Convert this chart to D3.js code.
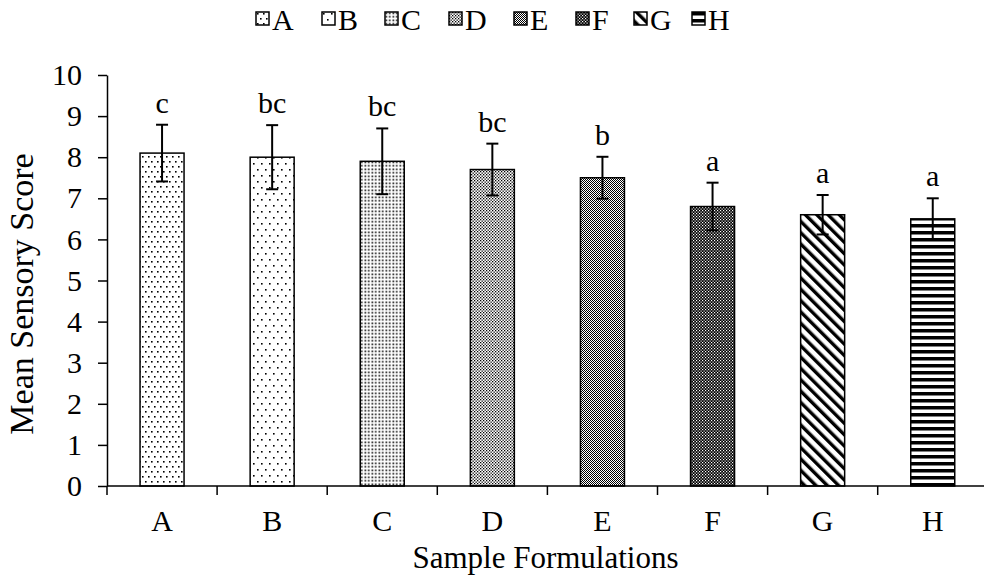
<!DOCTYPE html>
<html>
<head>
<meta charset="utf-8">
<script src="https://cdn.jsdelivr.net/npm/d3@7"></script>
<style>
  html, body { margin: 0; padding: 0; background: #fff; }
  svg { display: block; font-family: "Liberation Serif", "Times New Roman", serif; }
</style>
</head>
<body>
<svg id="chart" width="984" height="584"></svg>
<script>
const categories = ["A", "B", "C", "D", "E", "F", "G", "H"];
const means = [8.1, 8.0, 7.9, 7.7, 7.5, 6.8, 6.6, 6.5];
const errors = [0.69, 0.78, 0.8, 0.63, 0.51, 0.58, 0.48, 0.5];
const letters = ["c", "bc", "bc", "bc", "b", "a", "a", "a"];
const yTicks = [0, 1, 2, 3, 4, 5, 6, 7, 8, 9, 10];
const xTitle = "Sample Formulations";
const yTitle = "Mean Sensory Score";

(function () {
const svg = d3.select("#chart");
const W = 984, H = 584;
const mLeft = 107, mTop = 75, mBottom = 486;
const band = 110.1;

const x = d3.scaleBand().domain(categories).range([mLeft, mLeft + band * categories.length]).padding(0);
const y = d3.scaleLinear().domain([0, 10]).range([mBottom, mTop]);

const defs = svg.append("defs");
function pat(id, w, h, draw, transform) {
  const p = defs.append("pattern").attr("id", id).attr("patternUnits", "userSpaceOnUse")
    .attr("width", w).attr("height", h);
  if (transform) p.attr("patternTransform", transform);
  p.append("rect").attr("width", w).attr("height", h).attr("fill", "#fff");
  draw(p);
}
function dot(p, px, py, s, c) {
  p.append("rect").attr("x", px).attr("y", py).attr("width", s).attr("height", s).attr("fill", c || "#000");
}
pat("pA", 6, 10, p => { dot(p, 1, 1, 1.6); dot(p, 4, 6, 1.6); });
pat("pB", 8, 12, p => { dot(p, 1, 1, 1.6); dot(p, 5, 7, 1.6); });
pat("pC", 3.5, 3.5, p => { dot(p, 0.5, 0.5, 1.6); });
pat("pD", 3, 3, p => { dot(p, 0, 0, 1.3); dot(p, 1.5, 1.5, 1.3); });
pat("pE", 2, 2, p => { dot(p, 0, 0, 1); dot(p, 1, 1, 1); });
pat("pF", 3, 3, p => { dot(p, 0, 0, 3); dot(p, 0, 0, 1.2, "#fff"); dot(p, 1.5, 1.5, 1.2, "#fff"); });
pat("pG", 8, 8, p => {
  p.append("rect").attr("x", 0).attr("y", 0).attr("width", 3.4).attr("height", 8).attr("fill", "#000");
}, "rotate(-45)");
pat("pH", 8, 7, p => {
  p.append("rect").attr("x", 0).attr("y", 0).attr("width", 8).attr("height", 3.5).attr("fill", "#000");
});
const fills = ["pA", "pB", "pC", "pD", "pE", "pF", "pG", "pH"];

const barW = 44;
const g = svg.append("g");
const cx = d => x(d) + x.bandwidth() / 2;
g.selectAll("rect.bar").data(categories).join("rect")
  .attr("class", "bar")
  .attr("x", d => cx(d) - barW / 2)
  .attr("y", (d, i) => y(means[i]))
  .attr("width", barW)
  .attr("height", (d, i) => y(0) - y(means[i]))
  .attr("fill", (d, i) => `url(#${fills[i]})`)
  .attr("stroke", "#000").attr("stroke-width", 1.5);

const capW = 12;
const eb = g.selectAll("g.err").data(categories).join("g").attr("class", "err");
eb.append("line")
  .attr("x1", cx).attr("x2", cx)
  .attr("y1", (d, i) => y(means[i] - errors[i])).attr("y2", (d, i) => y(means[i] + errors[i]))
  .attr("stroke", "#000").attr("stroke-width", 2);
eb.append("line")
  .attr("x1", d => cx(d) - capW / 2).attr("x2", d => cx(d) + capW / 2)
  .attr("y1", (d, i) => y(means[i] + errors[i])).attr("y2", (d, i) => y(means[i] + errors[i]))
  .attr("stroke", "#000").attr("stroke-width", 2);
eb.append("line")
  .attr("x1", d => cx(d) - capW / 2).attr("x2", d => cx(d) + capW / 2)
  .attr("y1", (d, i) => y(means[i] - errors[i])).attr("y2", (d, i) => y(means[i] - errors[i]))
  .attr("stroke", "#000").attr("stroke-width", 2);

g.selectAll("text.sig").data(categories).join("text")
  .attr("class", "sig")
  .attr("x", cx)
  .attr("y", (d, i) => y(means[i] + errors[i]) - 12)
  .attr("text-anchor", "middle")
  .attr("font-size", 30)
  .text((d, i) => letters[i]);

const yAxis = svg.append("g").attr("transform", `translate(${mLeft},0)`)
  .call(d3.axisLeft(y).tickValues(yTicks).tickSize(9).tickPadding(16).tickSizeOuter(0).tickFormat(d3.format("d")));
yAxis.select(".domain").attr("stroke", "#000").attr("stroke-width", 1.5);
yAxis.selectAll(".tick line").attr("stroke", "#000").attr("stroke-width", 1.5);
yAxis.selectAll(".tick text").attr("font-size", 30).attr("fill", "#000")
  .attr("font-family", "Liberation Serif, Times New Roman, serif");

const xAxisG = svg.append("g");
xAxisG.append("line").attr("x1", mLeft).attr("x2", W).attr("y1", mBottom).attr("y2", mBottom)
  .attr("stroke", "#000").attr("stroke-width", 1.5);
xAxisG.selectAll("line.xt").data(categories).join("line").attr("class", "xt")
  .attr("x1", d => x(d)).attr("x2", d => x(d))
  .attr("y1", mBottom).attr("y2", mBottom + 9)
  .attr("stroke", "#000").attr("stroke-width", 1.5);
xAxisG.selectAll("text.xl").data(categories).join("text").attr("class", "xl")
  .attr("x", cx)
  .attr("y", 531)
  .attr("text-anchor", "middle")
  .attr("font-size", 30)
  .text(d => d);

svg.append("text").attr("x", (mLeft + W) / 2).attr("y", 568)
  .attr("text-anchor", "middle").attr("font-size", 31).text(xTitle);
svg.append("text").attr("transform", `translate(33,294) rotate(-90)`)
  .attr("text-anchor", "middle").attr("font-size", 34).text(yTitle);

const legX = [256, 322, 385, 449, 514, 576, 634, 692];
const leg = svg.append("g").selectAll("g").data(categories).join("g")
  .attr("transform", (d, i) => `translate(${legX[i]},12)`);
leg.append("rect").attr("width", 13).attr("height", 13)
  .attr("fill", (d, i) => `url(#${fills[i]})`).attr("stroke", "#000").attr("stroke-width", 1.5);
leg.append("text").attr("x", 16).attr("y", 18).attr("font-size", 30).text(d => d);
})();
</script>
</body>
</html>
